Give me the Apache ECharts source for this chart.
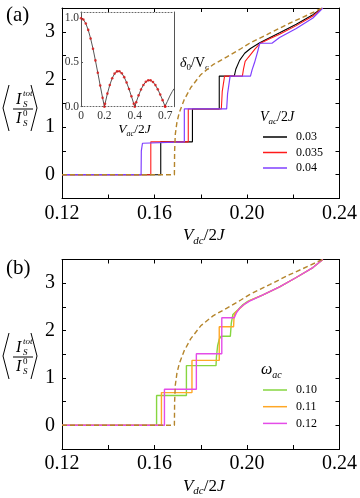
<!DOCTYPE html>
<html>
<head>
<meta charset="utf-8">
<script src="https://cdn.jsdelivr.net/npm/echarts@6/dist/echarts.min.js"></script>
<style>
html, body { margin: 0; padding: 0; background: #fff; }
#chart { width: 360px; height: 498px; }
</style>
</head>
<body>
<div id="chart"></div>
<script>
// values: [Vdc/2J, <I_tot/I_0>]
const dashedCurve = [[0.12,0],[0.1686,0],[0.1687,0.5],[0.1690,0.85],[0.1697,1.10],[0.1707,1.30],[0.1728,1.57],[0.1757,1.83],[0.1800,2.10],[0.1853,2.31],[0.1915,2.48],[0.1975,2.65],[0.2011,2.76],[0.2098,2.97],[0.2184,3.18],[0.2270,3.37],[0.2325,3.5]];

// panel (a): V_ac/2J
const namesA = ['0.03', '0.035', '0.04'];
const colorsA = ['#000000', '#ff1a1a', '#8040ff'];
const a003 = [[0.12,0],[0.1627,0],[0.1627,0.69],[0.1764,0.69],[0.1764,1.38],[0.1880,1.38],[0.1880,2.07],[0.1945,2.07],[0.1952,2.22],[0.1968,2.40],[0.1990,2.55],[0.2015,2.65],[0.2055,2.77],[0.2100,2.88],[0.2141,2.98],[0.2213,3.16],[0.2285,3.36],[0.2325,3.5]];
const a0035 = [[0.12,0],[0.1584,0],[0.1584,0.69],[0.1746,0.69],[0.1746,1.38],[0.1889,1.38],[0.1893,1.75],[0.1903,2.07],[0.1980,2.07],[0.1985,2.22],[0.1992,2.38],[0.2005,2.46],[0.2012,2.50],[0.2035,2.64],[0.2058,2.76],[0.2100,2.86],[0.2141,2.95],[0.2213,3.13],[0.2285,3.33],[0.2326,3.5]];
const a004 = [[0.12,0],[0.1542,0],[0.1543,0.5],[0.1548,0.66],[0.1555,0.69],[0.1729,0.69],[0.1729,1.38],[0.1912,1.38],[0.1916,1.70],[0.1927,2.07],[0.2015,2.07],[0.2022,2.20],[0.2033,2.36],[0.2047,2.60],[0.2055,2.76],[0.2108,2.76],[0.2141,2.88],[0.2213,3.07],[0.2285,3.29],[0.2328,3.5]];

// panel (b): omega_ac
const namesB = ['0.10', '0.11', '0.12'];
const colorsB = ['#86d640', '#ffa726', '#e44ce8'];
const b010 = [[0.12,0],[0.1609,0],[0.1609,0.63],[0.1738,0.63],[0.1738,1.26],[0.1866,1.26],[0.1868,1.45],[0.1873,1.68],[0.1880,1.82],[0.1888,1.88],[0.1928,1.88],[0.1932,2.15],[0.1939,2.34],[0.1961,2.44],[0.1983,2.55],[0.2005,2.62],[0.2067,2.75],[0.2141,2.92],[0.2213,3.12],[0.2285,3.33],[0.2328,3.5]];
const b011 = [[0.12,0],[0.1630,0],[0.1630,0.69],[0.1762,0.69],[0.1762,1.37],[0.1880,1.37],[0.1880,2.08],[0.1942,2.08],[0.1944,2.30],[0.1950,2.38],[0.1970,2.47],[0.1990,2.56],[0.2011,2.63],[0.2067,2.75],[0.2141,2.92],[0.2213,3.12],[0.2285,3.33],[0.2328,3.5]];
const b012 = [[0.12,0],[0.1643,0],[0.1643,0.76],[0.1781,0.76],[0.1781,1.51],[0.1891,1.51],[0.1891,2.27],[0.1945,2.27],[0.1955,2.38],[0.1968,2.47],[0.1990,2.56],[0.2011,2.62],[0.2067,2.75],[0.2141,2.92],[0.2213,3.12],[0.2285,3.33],[0.2328,3.5]];

// inset: |<I>| vs V_ac/2J
const insetX = [0,0.02,0.04,0.06,0.08,0.10,0.12,0.14,0.16,0.18,0.195,0.20,0.22,0.24,0.26,0.28,0.30,0.32,0.34,0.36,0.38,0.40,0.42,0.44,0.448,0.46,0.48,0.50,0.52,0.54,0.56,0.58,0.60,0.62,0.64,0.66,0.68,0.70,0.702,0.72,0.74,0.76,0.775];
const insetY = [1.0,0.985,0.940,0.868,0.771,0.655,0.523,0.383,0.240,0.100,0,0.032,0.148,0.246,0.322,0.374,0.399,0.400,0.378,0.334,0.273,0.200,0.118,0.033,0,0.051,0.128,0.194,0.246,0.281,0.298,0.298,0.279,0.244,0.196,0.138,0.074,0.006,0,0.060,0.120,0.170,0.203];

// ticks and labels
const xTickValues = [0.12,0.14,0.16,0.18,0.20,0.22,0.24];
const xLabelValues = [0.12,0.16,0.20,0.24];
const xLabels = ['0.12','0.16','0.20','0.24'];
const yTickValues = [0,0.5,1,1.5,2,2.5,3,3.5];
const yLabelValues = [0,1,2,3];
const yLabels = ['0','1','2','3'];
const insetXLabelValues = [0,0.195,0.448,0.702];
const insetXLabels = ['0','0.2','0.4','0.7'];
const insetYLabelValues = [0,0.5,1];
const insetYLabels = ['0.0','0.5','1.0'];

const SERIF = 'Liberation Serif';
const pick = (vals, labels) => v => {
  let k = 0;
  vals.forEach((t, i) => { if (Math.abs(t - v) < Math.abs(vals[k] - v)) k = i; });
  return labels[k];
};

const richName = size => ({
  i: { fontFamily: SERIF, fontStyle: 'italic', fontSize: size, lineHeight: size + 4, color: '#000' },
  n: { fontFamily: SERIF, fontSize: size, lineHeight: size + 4, color: '#000' },
  s: { fontFamily: SERIF, fontStyle: 'italic', fontSize: Math.round(size * 0.62), lineHeight: Math.round(size * 0.62), verticalAlign: 'bottom', color: '#000' }
});

function mainAxes(gi) {
  const line = { onZero: false, lineStyle: { color: '#000', width: 1 } };
  const tick = { inside: true, length: 4, customValues: null, lineStyle: { color: '#000' } };
  const xa = [
    { type: 'value', gridIndex: gi, min: 0.12, max: 0.24, position: 'bottom',
      axisLine: line, axisTick: { ...tick, customValues: xTickValues },
      axisLabel: { customValues: xLabelValues, formatter: pick(xLabelValues, xLabels), margin: 5,
        fontFamily: SERIF, fontSize: 20, color: '#000' },
      splitLine: { show: false },
      name: '{i|V}{s|dc}{n|/2}{i|J}', nameLocation: 'middle', nameGap: 27,
      nameTextStyle: { rich: richName(17), padding: [0, 0, 0, 6] } },
    { type: 'value', gridIndex: gi, min: 0.12, max: 0.24, position: 'top',
      axisLine: line, axisTick: { ...tick, customValues: xTickValues },
      axisLabel: { show: false }, splitLine: { show: false } }
  ];
  const ya = [
    { type: 'value', gridIndex: gi, min: -0.5, max: 3.5, position: 'left',
      axisLine: line, axisTick: { ...tick, customValues: yTickValues },
      axisLabel: { customValues: yLabelValues, formatter: pick(yLabelValues, yLabels), margin: 7,
        fontFamily: SERIF, fontSize: 20, color: '#000' },
      splitLine: { show: false } },
    { type: 'value', gridIndex: gi, min: -0.5, max: 3.5, position: 'right',
      axisLine: line, axisTick: { ...tick, customValues: yTickValues },
      axisLabel: { show: false }, splitLine: { show: false } }
  ];
  return { xa, ya };
}

const A = mainAxes(0), B = mainAxes(1);

const insetX0 = { type: 'value', gridIndex: 2, min: 0, max: 0.775, position: 'bottom',
  axisLine: { onZero: false, lineStyle: { color: '#666', width: 1, type: [1, 2] } },
  axisTick: { inside: true, length: 2, customValues: insetXLabelValues, lineStyle: { color: '#555' } },
  axisLabel: { customValues: insetXLabelValues, formatter: pick(insetXLabelValues, insetXLabels), margin: 3,
    fontFamily: SERIF, fontSize: 11.5, color: '#333' },
  splitLine: { show: false },
  name: '{i|V}{s|ac}{n|/2}{i|J}', nameLocation: 'middle', nameGap: 13,
  nameTextStyle: { rich: richName(13.5), padding: [0, 0, 0, 14] } };
const insetX1 = { type: 'value', gridIndex: 2, min: 0, max: 0.775, position: 'top',
  axisLine: { onZero: false, lineStyle: { color: '#666', width: 1, type: [1, 2] } },
  axisTick: { show: false }, axisLabel: { show: false }, splitLine: { show: false } };
const insetY0 = { type: 'value', gridIndex: 2, min: 0, max: 1.07, position: 'left',
  axisLine: { onZero: false, lineStyle: { color: '#555', width: 1 } },
  axisTick: { inside: true, length: 2, customValues: insetYLabelValues, lineStyle: { color: '#555' } },
  axisLabel: { customValues: insetYLabelValues, formatter: pick(insetYLabelValues, insetYLabels), margin: 2,
    fontFamily: SERIF, fontSize: 11.5, color: '#333' },
  splitLine: { show: false } };
const insetY1 = { type: 'value', gridIndex: 2, min: 0, max: 1.07, position: 'right',
  axisLine: { onZero: false, lineStyle: { color: '#555', width: 1 } },
  axisTick: { show: false }, axisLabel: { show: false }, splitLine: { show: false } };

function stepSeries(name, data, color, xi, yi, w) {
  return { name, type: 'line', data, xAxisIndex: xi, yAxisIndex: yi,
    showSymbol: false, symbol: 'none', color, itemStyle: { color },
    lineStyle: { color, width: w }, z: 3 };
}
function dashedSeries(xi, yi) {
  return { type: 'line', data: dashedCurve, xAxisIndex: xi, yAxisIndex: yi,
    showSymbol: false, symbol: 'none', lineStyle: { color: '#b5852c', width: 1.4, type: [5, 3] }, z: 4 };
}

const insetLine = insetX.map((x, i) => [x, insetY[i]]);
const insetDots = insetLine.filter(p => p[0] <= 0.703);

// <I_S^tot / I_S^0> label
function yName(cy) {
  const it = (t, x, y, size) => ({ type: 'text', x, y, style: { text: t, fill: '#000',
    font: 'italic ' + size + 'px "' + SERIF + '"', align: 'left', verticalAlign: 'middle' } });
  const up = (t, x, y, size) => ({ type: 'text', x, y, style: { text: t, fill: '#000',
    font: size + 'px "' + SERIF + '"', align: 'left', verticalAlign: 'middle' } });
  const line = pts => ({ type: 'polyline', shape: { points: pts }, style: { stroke: '#000', lineWidth: 1, fill: null } });
  return [
    line([[9, cy - 23], [3, cy], [9, cy + 23]]),
    line([[31, cy - 23], [37, cy], [31, cy + 23]]),
    line([[13, cy + 1], [33, cy + 1]]),
    it('I', 16, cy - 8, 16), it('tot', 23, cy - 14, 9), it('S', 23, cy - 3, 9),
    it('I', 16, cy + 11, 16), up('0', 23, cy + 6, 9), it('S', 23, cy + 16, 9)
  ];
}

const graphics = [
  { type: 'text', x: 6, y: 5, style: { text: '(a)', font: '21px "' + SERIF + '"', fill: '#000' } },
  { type: 'text', x: 6, y: 258, style: { text: '(b)', font: '21px "' + SERIF + '"', fill: '#000' } },
  ...yName(108),
  ...yName(356),
  { type: 'text', x: 180, y: 63, style: { text: '{g|δ}{s|0}{n|/V}{s|c}', verticalAlign: 'middle',
    rich: { g: { fontFamily: SERIF, fontStyle: 'italic', fontSize: 14, lineHeight: 18 },
            n: { fontFamily: SERIF, fontSize: 14, lineHeight: 18 },
            s: { fontFamily: SERIF, fontSize: 9, lineHeight: 9, verticalAlign: 'bottom' } } } },
  { type: 'text', x: 260, y: 117, style: { text: '{i|V}{s|ac}{n|/2}{i|J}', verticalAlign: 'middle', rich: richName(14) } },
  { type: 'text', x: 261, y: 370, style: { text: '{i|ω}{s|ac}', verticalAlign: 'middle', rich: richName(16) } }
];

const legendStyle = { fontFamily: SERIF, fontSize: 12, lineHeight: 14, color: '#000', padding: [0, 0, 0, 4] };

const option = {
  animation: false,
  backgroundColor: '#fff',
  grid: [
    { left: 62, top: 8, width: 278, height: 190.5, containLabel: false },
    { left: 62, top: 259.5, width: 278, height: 191, containLabel: false },
    { left: 81, top: 12, width: 93, height: 94.7, containLabel: false }
  ],
  xAxis: [...A.xa, ...B.xa, insetX0, insetX1],
  yAxis: [...A.ya, ...B.ya, insetY0, insetY1],
  legend: [
    { data: namesA, orient: 'vertical', left: 258, top: 125, itemWidth: 24, itemHeight: 1.5, itemGap: 1.5,
      icon: 'rect', selectedMode: false, textStyle: legendStyle },
    { data: namesB, orient: 'vertical', left: 258, top: 378, itemWidth: 24, itemHeight: 1.5, itemGap: 2.7,
      icon: 'rect', selectedMode: false, textStyle: legendStyle }
  ],
  graphic: graphics,
  series: [
    stepSeries(namesA[0], a003, colorsA[0], 0, 0, 1.1),
    stepSeries(namesA[1], a0035, colorsA[1], 0, 0, 1.1),
    stepSeries(namesA[2], a004, colorsA[2], 0, 0, 1.2),
    dashedSeries(0, 0),
    stepSeries(namesB[0], b010, colorsB[0], 2, 2, 1.4),
    stepSeries(namesB[1], b011, colorsB[1], 2, 2, 1.4),
    stepSeries(namesB[2], b012, colorsB[2], 2, 2, 1.4),
    dashedSeries(2, 2),
    { type: 'line', data: insetLine, xAxisIndex: 4, yAxisIndex: 4, showSymbol: false, symbol: 'none',
      lineStyle: { color: '#555', width: 1 }, z: 3 },
    { type: 'scatter', data: insetDots, xAxisIndex: 4, yAxisIndex: 4, symbol: 'circle', symbolSize: 2.6,
      itemStyle: { color: '#e01010' }, z: 4 }
  ]
};

const chart = echarts.init(document.getElementById('chart'));
chart.setOption(option);
</script>
</body>
</html>
